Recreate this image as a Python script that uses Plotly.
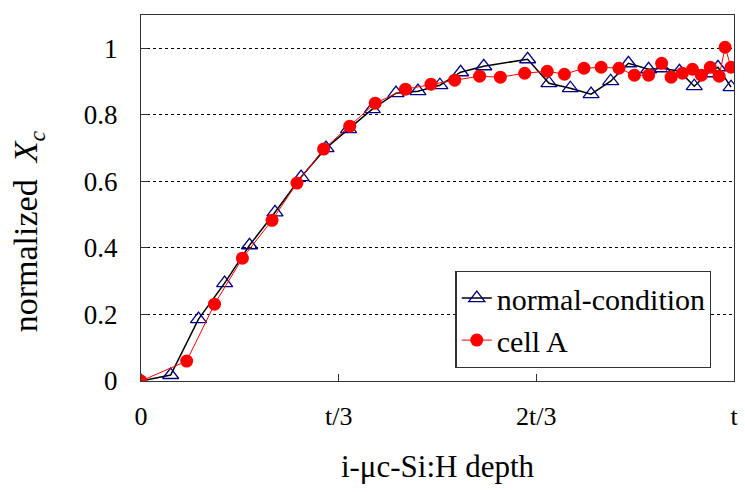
import plotly.graph_objects as go

# normal-condition (triangles)
normal_x = [0.0, 0.050, 0.097, 0.141, 0.183, 0.226, 0.270, 0.312, 0.350, 0.390,
            0.430, 0.467, 0.504, 0.539, 0.578, 0.652, 0.688, 0.724, 0.759, 0.792,
            0.822, 0.856, 0.879, 0.908, 0.933, 0.956, 0.973, 0.995]
normal_y = [0.0, 0.018, 0.186, 0.294, 0.408, 0.507, 0.613, 0.700, 0.757, 0.817,
            0.865, 0.871, 0.889, 0.928, 0.946, 0.967, 0.895, 0.880, 0.862, 0.901,
            0.955, 0.937, 0.940, 0.931, 0.886, 0.925, 0.943, 0.883]

# cell A (red circles)
cellA_x = [0.0, 0.077, 0.124, 0.171, 0.221, 0.263, 0.308, 0.352, 0.395, 0.446,
           0.489, 0.529, 0.571, 0.606, 0.647, 0.685, 0.714, 0.747, 0.776, 0.806,
           0.832, 0.856, 0.878, 0.894, 0.913, 0.930, 0.945, 0.960, 0.975, 0.985, 0.995]
cellA_y = [0.0, 0.060, 0.231, 0.369, 0.483, 0.595, 0.697, 0.766, 0.835, 0.877,
           0.892, 0.904, 0.916, 0.913, 0.925, 0.931, 0.922, 0.940, 0.943, 0.940,
           0.919, 0.919, 0.955, 0.913, 0.925, 0.937, 0.919, 0.943, 0.916, 1.003, 0.943]

x_tickvals = [0, 1/3, 2/3, 1]
x_ticktext = ["0", "t/3", "2t/3", "t"]
y_tickvals = [0, 0.2, 0.4, 0.6, 0.8, 1]
y_ticktext = ["0", "0.2", "0.4", "0.6", "0.8", "1"]

serif = "Liberation Serif, Times New Roman, serif"

fig = go.Figure()
fig.add_trace(go.Scatter(
    x=normal_x, y=normal_y, mode="lines+markers", name="normal-condition",
    line=dict(color="black", width=1.5),
    marker=dict(symbol="triangle-up-open", size=14, color="#000080",
                line=dict(color="#000080", width=1.3)),
))
fig.add_trace(go.Scatter(
    x=cellA_x, y=cellA_y, mode="lines+markers", name="cell A",
    line=dict(color="red", width=1),
    marker=dict(symbol="circle", size=13, color="red"),
))

fig.update_layout(
    width=745, height=492,
    margin=dict(l=141, r=7, t=15, b=111),
    paper_bgcolor="white", plot_bgcolor="white",
    font=dict(family=serif, color="black"),
    showlegend=True,
    legend=dict(x=0.962, y=0.036, xanchor="right", yanchor="bottom",
                bordercolor="#333", borderwidth=1.3, bgcolor="white",
                font=dict(size=30, family=serif), tracegroupgap=0,
                itemwidth=30),
    xaxis=dict(range=[0, 1], tickvals=x_tickvals, ticktext=x_ticktext,
               ticks="inside", ticklen=7, tickcolor="#333",
               showgrid=False, zeroline=False,
               showline=True, linecolor="#333", linewidth=1.3, mirror=True,
               tickfont=dict(size=26, family=serif),
               ticklabelstandoff=12,
               title=dict(text="i-μc-Si:H depth", font=dict(size=31, family=serif),
                          standoff=24)),
    yaxis=dict(range=[0, 1.1], tickvals=y_tickvals, ticktext=y_ticktext,
               ticks="inside", ticklen=7, tickcolor="#333",
               showgrid=True, gridcolor="black", griddash="dot", gridwidth=1,
               zeroline=False,
               showline=True, linecolor="#333", linewidth=1.3, mirror=True,
               tickfont=dict(size=27, family=serif),
               ticklabelstandoff=17),
)
fig.add_annotation(
    text="normalized  <i>X<sub>c</sub></i>", textangle=-90,
    xref="paper", yref="paper", x=-0.19, y=0.41,
    xanchor="center", yanchor="middle", showarrow=False,
    font=dict(size=34, family=serif),
)

fig.write_html("out.html")
